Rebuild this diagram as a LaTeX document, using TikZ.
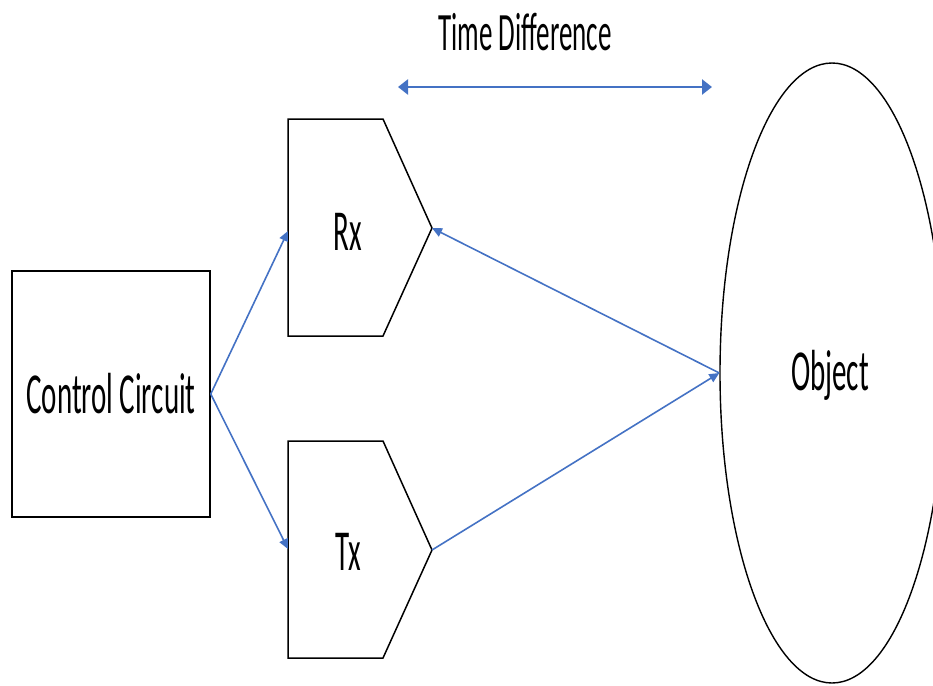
\documentclass[tikz,border=0pt]{standalone}
\usepackage{fontspec}
\setmainfont{Carlito}[FakeStretch=0.5]
\usetikzlibrary{arrows.meta,shapes.geometric}
\definecolor{officeblue}{HTML}{4472C4}
\tikzset{
  outline/.style={draw=black, line width=1.5pt},
  conn/.style={draw=officeblue, line width=1.6pt, -{Triangle[length=10pt,width=9pt]}},
  bigconn/.style={draw=officeblue, line width=2.8pt, {Triangle[length=10pt,width=15pt]}-{Triangle[length=10pt,width=15pt]}},
  lbl/.style={inner sep=0pt, font=\fontsize{58}{60}\selectfont},
}
\begin{document}
\begin{tikzpicture}[x=1pt,y=-1pt]
\useasboundingbox (0,0) rectangle (933,685);
% Control circuit
\node[outline, minimum width=198pt, minimum height=246pt, inner sep=0pt,
      font=\fontsize{58}{60}\selectfont] (cc) at (111,394) {Control Circuit};
% Rx pentagon
\draw[outline, line join=miter] (288,119) -- (383,119) -- (432,228) -- (383,336) -- (288,336) -- cycle;
\coordinate (rxW) at (288,231);
\coordinate (rxT) at (432,228);
\node[lbl] (rx) at (348,232) {Rx};
% Tx pentagon
\draw[outline, line join=miter] (288,441) -- (383,441) -- (432,550) -- (383,658) -- (288,658) -- cycle;
\coordinate (txW) at (288,549);
\coordinate (txT) at (432,550);
\node[lbl] (tx) at (348,552) {Tx};
% Object
\node[draw=black, line width=1.4pt, ellipse, minimum width=224pt, minimum height=620pt,
      inner sep=0pt] (obj) at (832,373) {};
\node[lbl] (objt) at (830,375) {Object};
% Time difference
\node[lbl, font=\fontsize{54}{56}\selectfont] (td) at (525,32) {Time Difference};
\coordinate (tdL) at (398,87);
\coordinate (tdR) at (712,87);
% connectors
\draw[conn] (cc.east) -- (rxW);
\draw[conn] (cc.east) -- (txW);
\draw[conn] (obj.west) -- (rxT);
\draw[conn] (txT) -- (obj.west);
\draw[bigconn] (tdL) -- (tdR);
\end{tikzpicture}
\end{document}
